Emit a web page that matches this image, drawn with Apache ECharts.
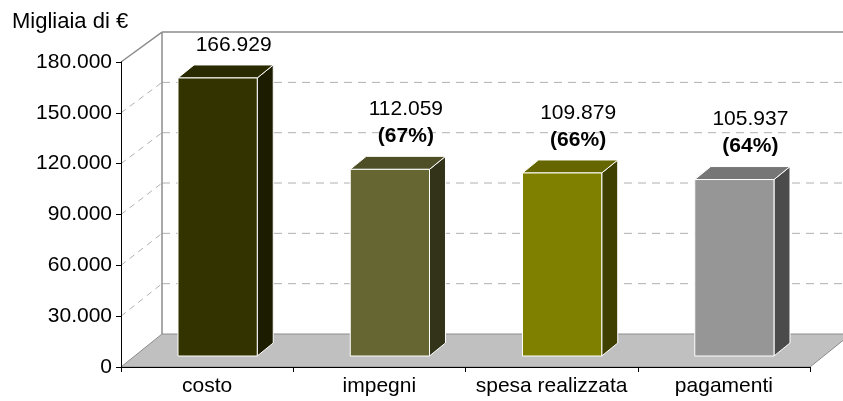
<!DOCTYPE html>
<html>
<head>
<meta charset="utf-8">
<script src="https://cdn.jsdelivr.net/npm/echarts@6/dist/echarts.min.js"></script>
<style>
  html, body { margin: 0; padding: 0; background: #fff; }
  #chart1 { width: 843px; height: 401px; }
</style>
</head>
<body>
<div id="chart1"></div>
<script>
// 数据
let categories = ['costo', 'impegni', 'spesa realizzata', 'pagamenti'];
let values = [166929, 112059, 109879, 105937];
let percents = [null, 67, 66, 64];
let yTicks = [0, 30000, 60000, 90000, 120000, 150000, 180000];

// 柱子颜色：正面 / 顶面 / 侧面
let frontColor = ['#333300', '#666633', '#808000', '#969696'];
let topColor = ['#2a2a00', '#4f4f27', '#666600', '#767676'];
let sideColor = ['#1c1c00', '#33331a', '#404000', '#4b4b4b'];

let font = '"Liberation Sans", Arial, sans-serif';
let fontSize = 21;

// 千位分隔符 "."
function fmt(v) {
    return String(v).replace(/\B(?=(\d{3})+(?!\d))/g, '.');
}

// 3D 偏移
let wallDx = 41, wallDy = -33;
let barDx = 10.5, barDy = -11;
let depthDx = 16, depthDy = -13;

let chart1 = echarts.init(document.getElementById('chart1'));

function renderFrame(params, api) {
    let cs = params.coordSys;
    let x0 = cs.x, x1 = cs.x + cs.width, yb = cs.y + cs.height;
    let children = [];
    let backY = function (v) {
        let y = api.coord([0, v])[1];
        return (y - yb) * 0.99 + yb + wallDy;
    };
    // 地面
    children.push({
        type: 'polygon',
        shape: { points: [[x0, yb], [x1, yb], [x1 + wallDx, yb + wallDy], [x0 + wallDx, yb + wallDy]] },
        style: { fill: '#c0c0c0', stroke: '#8c8c8c', lineWidth: 1 }
    });
    // 网格线
    yTicks.forEach(function (v) {
        if (v === 0) return;
        let yf = api.coord([0, v])[1];
        let yk = backY(v);
        let top = v === yTicks[yTicks.length - 1];
        children.push({
            type: 'line',
            shape: { x1: x0, y1: yf, x2: x0 + wallDx, y2: yk },
            style: { stroke: top ? '#8c8c8c' : '#b0b0b0', lineWidth: top ? 1.5 : 1, lineDash: top ? null : [6, 5] }
        });
        children.push({
            type: 'line',
            shape: { x1: x0 + wallDx, y1: yk, x2: x1 + wallDx, y2: yk },
            style: { stroke: top ? '#8c8c8c' : '#b0b0b0', lineWidth: top ? 1.5 : 1, lineDash: top ? null : [8, 6] }
        });
    });
    // 背墙左边
    children.push({
        type: 'line',
        shape: { x1: x0 + wallDx, y1: yb + wallDy, x2: x0 + wallDx, y2: backY(yTicks[yTicks.length - 1]) },
        style: { stroke: '#8c8c8c', lineWidth: 1.5 }
    });
    return { type: 'group', children: children };
}

function renderBar(params, api) {
    let i = api.value(0);
    let v = api.value(1);
    let base = api.coord([i, 0]);
    let top = api.coord([i, v]);
    let w = api.size([1, 0])[0] * 0.46;
    let h = (base[1] - top[1]) * 0.983;
    let cx = base[0] + barDx;
    let xl = cx - w / 2, xr = cx + w / 2;
    let fb = base[1] + barDy, ft = fb - h;
    let st = { stroke: '#ffffff', lineWidth: 1 };
    let children = [
        {
            type: 'polygon',
            shape: { points: [[xr, fb], [xr + depthDx, fb + depthDy], [xr + depthDx, ft + depthDy], [xr, ft]] },
            style: Object.assign({ fill: sideColor[i] }, st)
        },
        {
            type: 'polygon',
            shape: { points: [[xl, ft], [xr, ft], [xr + depthDx, ft + depthDy], [xl + depthDx, ft + depthDy]] },
            style: Object.assign({ fill: topColor[i] }, st)
        },
        {
            type: 'rect',
            shape: { x: xl, y: ft, width: w, height: h },
            style: Object.assign({ fill: frontColor[i] }, st)
        }
    ];
    let lx = cx + depthDx;
    let lines = [{ text: fmt(v), bold: false }];
    if (percents[i] != null) {
        lines.push({ text: '(' + percents[i] + '%)', bold: true });
    }
    lines.forEach(function (l, k) {
        children.push({
            type: 'text',
            style: {
                x: lx,
                y: ft - 33 - (lines.length - 1 - k) * 27,
                text: l.text,
                fill: '#000',
                font: (l.bold ? 'bold ' : '') + fontSize + 'px ' + font,
                textAlign: 'center',
                textVerticalAlign: 'middle'
            }
        });
    });
    return { type: 'group', children: children };
}

let option = {
    backgroundColor: '#fff',
    animation: false,
    textStyle: { fontFamily: font },
    title: {
        text: 'Migliaia di €',
        left: 12,
        top: 11,
        padding: 0,
        textStyle: { color: '#000', fontSize: fontSize + 1, fontWeight: 'normal', fontFamily: font }
    },
    grid: { left: 121, right: 33, top: 62, bottom: 34 },
    xAxis: {
        type: 'category',
        data: categories,
        z: 10,
        axisLine: { lineStyle: { color: '#000', width: 1 } },
        axisTick: { show: true, length: 5, lineStyle: { color: '#000' } },
        axisLabel: { color: '#000', fontSize: fontSize, margin: 9, interval: 0, fontFamily: font }
    },
    yAxis: {
        type: 'value',
        min: 0,
        max: 180000,
        interval: 30000,
        z: 10,
        axisLine: { show: true, lineStyle: { color: '#000', width: 1 } },
        axisTick: { show: true, length: 5, lineStyle: { color: '#000' } },
        splitLine: { show: false },
        axisLabel: { color: '#000', fontSize: fontSize, margin: 9, fontFamily: font, formatter: function (v) { return fmt(v); } }
    },
    series: [{
        type: 'custom',
        name: 'frame',
        z: 1,
        silent: true,
        renderItem: renderFrame,
        data: [[0, 0]]
    }, {
        type: 'custom',
        name: 'bars',
        z: 5,
        renderItem: renderBar,
        data: values.map(function (v, i) { return [i, v]; })
    }]
};
window.onresize = chart1.resize;
chart1.setOption(option);
</script>
</body>
</html>
